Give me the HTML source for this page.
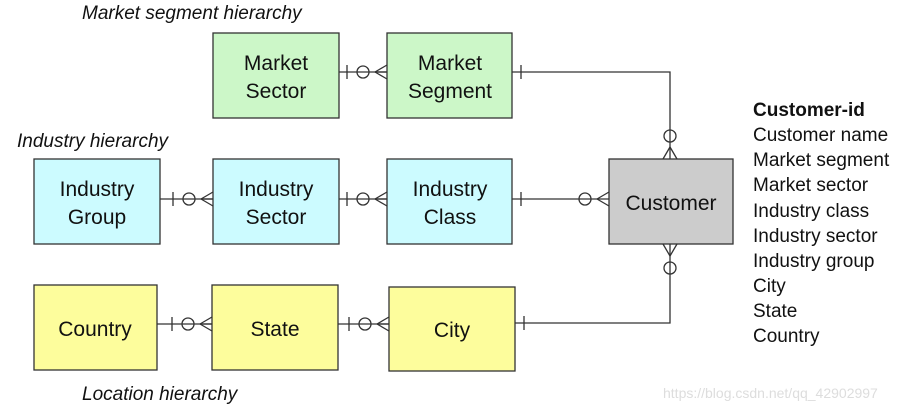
<!DOCTYPE html>
<html><head><style>
body{margin:0;background:#fff;}
svg text{font-family:"Liberation Sans",sans-serif;}
</style></head><body>
<svg width="915" height="411" xmlns="http://www.w3.org/2000/svg">
<defs>
<g id="cf" fill="none" stroke="#333" stroke-width="1.3">
<!-- crow foot ending at x=0 pointing right; tick at -40 -->
<line x1="-40" y1="-7" x2="-40" y2="7"/>
<circle cx="-24" cy="0" r="6"/>
<line x1="-12" y1="0" x2="0" y2="-7"/>
<line x1="-12" y1="0" x2="0" y2="7"/>
<line x1="-12" y1="0" x2="0" y2="0"/>
</g>
</defs>
<g stroke="#333" stroke-width="1.3">
<rect x="213" y="33" width="126" height="85" fill="#ccf7c8"/>
<rect x="387" y="33" width="125" height="85" fill="#ccf7c8"/>
<rect x="34" y="159" width="126" height="85" fill="#ccfbff"/>
<rect x="213" y="159" width="126" height="85" fill="#ccfbff"/>
<rect x="387" y="159" width="125" height="85" fill="#ccfbff"/>
<rect x="609" y="159" width="124" height="85" fill="#cccccc"/>
<rect x="34" y="285" width="123" height="85" fill="#fdfd9c"/>
<rect x="212" y="285" width="126" height="85" fill="#fdfd9c"/>
<rect x="389" y="287" width="126" height="84" fill="#fdfd9c"/>
</g>
<g stroke="#333" stroke-width="1.3" fill="none">
<line x1="339" y1="72" x2="387" y2="72"/>
<line x1="160" y1="199" x2="213" y2="199"/>
<line x1="339" y1="199" x2="387" y2="199"/>
<line x1="157" y1="324" x2="212" y2="324"/>
<line x1="338" y1="324" x2="389" y2="324"/>
<polyline points="512,72 670,72 670,159"/>
<line x1="512" y1="199" x2="609" y2="199"/>
<polyline points="515,323 670,323 670,244"/>
<line x1="521" y1="65" x2="521" y2="79"/>
<line x1="521" y1="192" x2="521" y2="206"/>
<line x1="524" y1="316" x2="524" y2="330"/>
</g>
<use href="#cf" transform="translate(387,72)"/>
<use href="#cf" transform="translate(213,199)"/>
<use href="#cf" transform="translate(387,199)"/>
<use href="#cf" transform="translate(212,324)"/>
<use href="#cf" transform="translate(389,324)"/>
<g fill="none" stroke="#333" stroke-width="1.3">
<circle cx="585" cy="199" r="6"/>
<line x1="597" y1="199" x2="609" y2="192"/><line x1="597" y1="199" x2="609" y2="206"/>
<circle cx="670" cy="136" r="6"/>
<line x1="670" y1="147" x2="663" y2="159"/><line x1="670" y1="147" x2="677" y2="159"/>
<circle cx="670" cy="268" r="6"/>
<line x1="670" y1="256" x2="663" y2="244"/><line x1="670" y1="256" x2="677" y2="244"/>
</g>
<g font-size="21" fill="#111" text-anchor="middle">
<text x="276" y="70">Market</text><text x="276" y="98">Sector</text>
<text x="450" y="70">Market</text><text x="450" y="98">Segment</text>
<text x="97" y="196">Industry</text><text x="97" y="224">Group</text>
<text x="276" y="196">Industry</text><text x="276" y="224">Sector</text>
<text x="450" y="196">Industry</text><text x="450" y="224">Class</text>
<text x="671" y="210">Customer</text>
<text x="95" y="336">Country</text>
<text x="275" y="336">State</text>
<text x="452" y="337">City</text>
</g>
<g font-size="19" font-style="italic" fill="#111">
<text x="82" y="19">Market segment hierarchy</text>
<text x="17" y="147">Industry hierarchy</text>
<text x="82" y="400">Location hierarchy</text>
</g>
<g font-size="19" fill="#111">
<text x="753" y="116" font-weight="bold">Customer-id</text>
<text x="753" y="141">Customer name</text>
<text x="753" y="166">Market segment</text>
<text x="753" y="191">Market sector</text>
<text x="753" y="217">Industry class</text>
<text x="753" y="242">Industry sector</text>
<text x="753" y="267">Industry group</text>
<text x="753" y="292">City</text>
<text x="753" y="317">State</text>
<text x="753" y="342">Country</text>
</g>
<text x="663" y="398" font-size="14" fill="#ddd">https://blog.csdn.net/qq_42902997</text>
</svg>
</body></html>
